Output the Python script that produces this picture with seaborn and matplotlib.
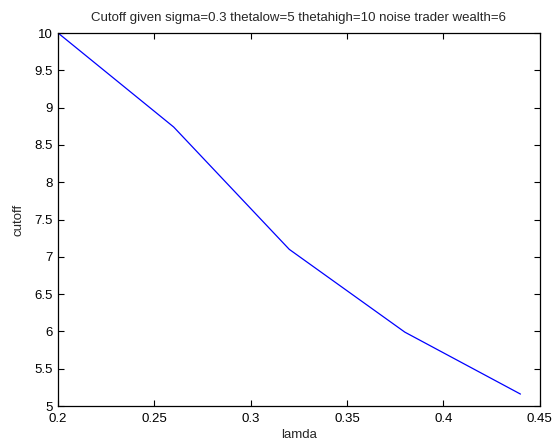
import matplotlib
matplotlib.use("Agg")
import matplotlib.pyplot as plt
import seaborn as sns
import pandas as pd

lamda = [0.20, 0.26, 0.32, 0.38, 0.44]
cutoff = [10.0, 8.74, 7.10, 5.99, 5.16]
xticks = [0.2, 0.25, 0.3, 0.35, 0.4, 0.45]
xticklabels = ["0.2", "0.25", "0.3", "0.35", "0.4", "0.45"]
yticks = [5, 5.5, 6, 6.5, 7, 7.5, 8, 8.5, 9, 9.5, 10]
yticklabels = ["5", "5.5", "6", "6.5", "7", "7.5", "8", "8.5", "9", "9.5", "10"]

sns.set_style("white")
plt.rcParams["font.family"] = ["Liberation Sans", "DejaVu Sans"]
plt.rcParams["font.size"] = 9

df = pd.DataFrame({"lamda": lamda, "cutoff": cutoff})

fig = plt.figure(figsize=(5.53, 4.43), dpi=100)
ax = fig.add_axes([0.105, 0.0835, 0.871, 0.842])
sns.lineplot(data=df, x="lamda", y="cutoff", ax=ax, color="#0000ff", linewidth=0.9)

ax.set_xlim(0.2, 0.45)
ax.set_ylim(5, 10)
ax.set_xticks(xticks)
ax.set_xticklabels(xticklabels)
ax.set_yticks(yticks)
ax.set_yticklabels(yticklabels)
ax.tick_params(direction="in", length=4, width=0.8, colors="black", labelsize=9.5,
               top=True, right=True, bottom=True, left=True)
ax.tick_params(axis="x", pad=5)
ax.tick_params(axis="y", pad=4)
for s in ax.spines.values():
    s.set_visible(True)
    s.set_color("black")
    s.set_linewidth(0.9)
ax.set_xlabel("lamda", fontsize=9.5, labelpad=3)
ax.set_ylabel("cutoff", fontsize=9.5, labelpad=7)
ax.set_title("Cutoff given sigma=0.3 thetalow=5 thetahigh=10 noise trader wealth=6", fontsize=9.5, pad=9)

fig.savefig("out.png", dpi=100)
